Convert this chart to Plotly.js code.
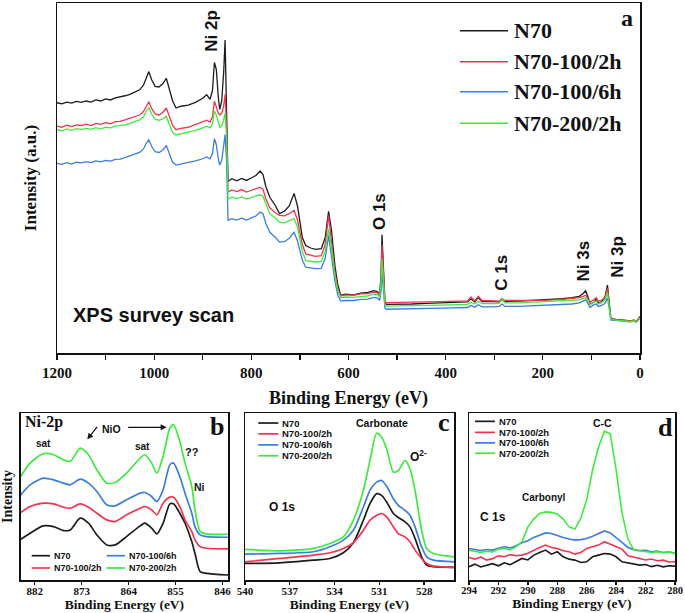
<!DOCTYPE html>
<html>
<head>
<meta charset="utf-8">
<script src="https://cdn.plot.ly/plotly-3.0.1.min.js"></script>
<style>html,body{margin:0;padding:0;background:#fff;}#chart{width:685px;height:613px;}</style>
</head>
<body>
<div id="chart"></div>
<script>
// ---------- shared series info ----------
const seriesNames  = ['N70', 'N70-100/2h', 'N70-100/6h', 'N70-200/2h'];
const seriesColors = ['#1c1c1c', '#f4344f', '#3b7de4', '#3fea3f'];

// ---------- (a) XPS survey scan ----------
const surveyEV = [1200,1190,1180,1170,1160,1150,1140,1130,1120,1110,
  1100,1090,1080,1070,1060,1050,1040,1030,1022,1016,
  1011,1005,998,990,982,975,968,962,955,945,
  930,915,900,892,885,880,876,872,868,865,
  861,857,854,851,848,840,830,820,810,800,
  790,782,776,770,762,750,742,732,722,712,
  705,695,688,678,668,656,648,641,635,628,
  622,616,605,590,575,560,548,540,536,533,
  531,528,525,522,500,470,440,410,380,355,
  348,340,333,325,300,290,284,278,250,220,
  190,160,140,125,117,112,107,103,95,90,
  86,80,72,67,63,60,50,40,30,20,
  12,8,3,0];
const surveyN70 = [71.5,71.2,71.7,71.4,71.9,71.6,72.0,71.7,72.3,72.0,
  72.6,72.3,72.9,73.1,73.5,73.9,74.6,75.2,76.5,78.8,
  80.4,78.0,76.2,76.0,77.0,78.5,75.0,72.0,70.0,70.5,
  70.8,71.6,72.8,73.8,72.5,75.0,83.0,81.0,73.0,69.6,
  72.0,80.0,89.4,70.0,49.0,49.8,49.2,49.9,49.3,50.0,
  50.8,52.0,51.0,47.5,44.5,42.0,39.8,40.5,42.0,45.6,
  42.0,33.0,30.7,30.0,29.6,29.8,33.0,40.5,35.0,25.0,
  19.5,16.5,16.8,16.6,17.1,17.3,17.8,17.5,16.5,22.0,
  33.8,24.0,14.5,13.9,13.9,14.0,14.2,14.3,14.4,14.6,
  15.5,14.6,15.8,14.7,14.7,14.6,15.3,14.7,14.8,15.0,
  15.2,15.5,15.8,16.2,17.0,17.8,16.0,14.0,14.5,15.5,
  14.2,14.5,16.0,19.4,14.0,9.8,9.6,9.5,9.4,9.2,
  9.4,9.0,9.8,10.5];
const surveyN70_100_2h = [64.8,64.5,65.1,64.7,65.2,65.0,65.4,65.0,65.6,65.3,
  65.8,65.5,66.1,66.2,66.6,67.0,67.4,68.0,69.0,70.8,
  71.8,69.8,68.3,68.0,68.8,70.0,67.3,65.0,63.8,64.2,
  64.5,65.2,66.0,66.5,66.0,67.5,72.0,70.5,68.5,68.0,
  68.5,70.5,73.9,65.0,46.0,46.6,46.1,46.7,46.0,46.5,
  46.9,47.3,46.8,44.0,41.5,40.0,39.3,39.2,39.8,40.8,
  38.0,31.0,28.3,27.9,27.6,27.8,31.0,39.3,32.0,23.0,
  18.5,16.3,16.6,16.5,16.9,17.0,17.4,17.2,16.5,21.0,
  30.9,22.0,14.8,14.4,14.4,14.5,14.6,14.7,14.8,14.9,
  16.0,14.9,16.2,15.0,14.9,14.8,15.6,15.0,15.0,15.0,
  15.1,15.3,15.5,15.8,16.2,16.5,15.5,14.5,15.3,15.8,
  14.8,15.0,15.8,18.5,13.5,9.8,9.6,9.5,9.4,9.2,
  9.4,9.0,9.8,10.3];
const surveyN70_100_6h = [54.2,53.9,54.4,54.0,54.5,54.3,54.7,54.4,54.9,54.6,
  55.0,54.8,55.3,55.4,55.8,56.2,56.8,57.3,58.3,60.0,
  60.9,59.0,57.5,57.3,58.0,59.3,56.5,54.5,53.7,54.0,
  54.3,54.9,55.5,56.0,55.5,57.0,61.2,59.5,55.5,53.7,
  55.0,58.5,62.4,55.0,37.9,38.4,38.0,38.5,38.0,38.6,
  39.2,40.3,39.8,37.0,34.5,33.0,31.7,31.8,32.8,34.5,
  32.0,26.5,24.5,24.3,24.1,24.2,27.0,33.6,28.0,20.5,
  16.5,14.9,15.0,15.0,15.3,15.4,15.9,15.7,15.0,17.5,
  23.0,17.0,12.8,12.5,12.6,12.6,12.7,12.8,12.9,13.0,
  13.6,13.1,13.8,13.2,13.2,13.3,14.0,13.3,13.3,13.5,
  13.6,13.8,14.0,14.3,14.8,15.2,14.2,13.0,13.8,14.0,
  13.3,13.5,14.2,15.8,12.5,9.4,9.3,9.2,9.1,8.9,
  9.1,8.8,9.5,9.9];
const surveyN70_200_2h = [63.8,63.5,64.0,63.6,64.1,63.8,64.2,63.9,64.4,64.0,
  64.5,64.3,64.8,64.9,65.2,65.6,66.0,66.6,67.5,69.2,
  70.1,68.2,66.8,66.5,66.9,67.6,65.0,63.0,62.3,62.6,
  63.0,63.6,64.3,64.8,64.3,65.5,69.1,68.0,66.0,64.5,
  65.0,66.5,68.5,62.0,44.0,44.5,44.1,44.6,44.0,44.4,
  44.8,45.2,44.8,42.5,39.8,38.5,37.4,37.2,37.8,38.4,
  36.0,29.0,26.4,26.2,26.0,26.2,29.0,35.5,30.0,22.0,
  17.8,15.8,16.0,15.9,16.2,16.3,16.8,16.6,16.0,19.5,
  26.9,19.0,13.8,13.4,13.4,13.5,13.6,13.7,13.8,13.9,
  14.6,14.0,14.8,14.1,14.1,14.2,15.5,14.3,14.3,14.5,
  14.6,14.8,15.0,15.2,15.6,15.8,15.0,13.8,14.6,14.8,
  14.0,14.3,15.2,17.3,13.0,9.6,9.4,9.3,9.2,9.0,
  9.2,8.9,9.6,10.0];
const surveyTicks = [1200,1100,1000,900,800,700,600,500,400,300,200,100,0];
const surveyTickText = ['1200','','1000','','800','','600','','400','','200','','0'];

// ---------- (b) Ni 2p ----------
const niEV = [884.7,882.9,880.4,878.4,876.5,875.2,873.3,871.7,870.1,868.2,866.6,864.4,861.8,860.9,859.6,858.6,857.4,856.1,855.4,854.2,853.2,851.9,851.3,850.3,849.1,844.9];
const niN70        = [24.4,28,32.4,32,29.6,30,37,34,27,21,21,26,32.4,34,31,27.6,34,45.6,45.6,40,34,23,16,5,4,3];
const niN70_100_2h = [40.4,44,46,45.6,43.6,43,45.6,43.6,40,36,35,39,43,44,42,39,46,49.6,49.6,44,36,29,24,20,19,18.6];
const niN70_100_6h = [51,57,61,60,58,57,60.4,58,53,45,44.4,48,52,52.4,50,47,54,69,70,62,52,40,32,27,26,25.6];
const niN70_200_2h = [62,70,75.6,75,72,71,79,75,66,58,58.4,64,73,75,70,64,74,91,93,83,70,56,42,29,27.6,27.4];
const niTicks = [882,873,864,855,846];

// ---------- (c) O 1s ----------
const oEV = [540,537.66,535.42,534.31,533.41,532.74,532.07,531.63,531.18,530.85,530.51,530.06,529.73,529.28,528.95,528.61,528.17,527.83,527.38,526.0];
const oN70        = [9.9,10.3,11.9,12.9,16.3,22.3,35.8,45.7,51.7,50.7,46.7,39.8,37.4,34.8,31.8,24.9,13.9,8.9,8.0,7.6];
const oN70_100_2h = [10.9,12.9,14.9,16.3,18.9,22.3,29.8,35.8,38.8,39.8,37.8,31.8,27.8,25.8,22.9,17.9,12.9,9.9,8.3,7.6];
const oN70_100_6h = [15.5,15.9,16.9,19.9,23.9,29.8,43.7,53.7,58.6,59.6,56.1,48.7,44.7,41.7,38.8,31.8,19.9,13.9,11.9,10.9];
const oN70_200_2h = [18.3,17.5,18.9,21.9,25.8,35.8,53.7,71.6,87.9,85.5,78.5,64.6,65.6,71.6,66.6,53.7,29.8,18.9,15.9,13.9];
const oTicks = [540,537,534,531,528];

// ---------- (d) C 1s ----------
const cEV = [294,293.6,293.2,292.8,292.4,292.0,291.6,291.2,290.8,290.4,290.0,289.6,289.2,288.8,288.4,288.0,287.6,287.2,286.8,286.4,286.0,285.6,285.2,284.8,284.4,284.0,283.6,283.2,282.8,282.4,282.0,281.6,281.2,280.8,280.4,280.0];
const cN70        = [8.0,9.5,7.8,8.9,9.8,8.5,10.3,9.2,11.0,12.9,12.0,14.9,16.5,17.9,15.5,16.9,13.9,12.5,11.9,10.5,10.9,13.9,14.9,15.9,15.5,13.9,10.9,10.2,9.9,8.9,9.3,8.0,8.8,7.9,8.5,8.3];
const cN70_100_2h = [13.5,12.5,13.8,11.9,12.8,14.5,13.9,15.2,14.5,14.9,16.0,17.9,19.5,20.9,19.5,18.9,17.5,16.9,15.5,16.5,18.9,19.9,20.9,22.9,21.5,20.3,18.5,14.5,13.5,12.9,12.0,12.6,11.5,11.9,10.8,10.9];
const cN70_100_6h = [18.9,18.2,17.6,18.3,17.9,19.0,19.9,19.2,20.5,22.3,23.5,25.5,27.0,28.2,27.8,26.5,25.5,24.5,23.9,24.2,24.9,26.2,27.8,29.4,28.2,25.5,22.5,19.5,18.2,17.6,17.8,16.9,17.3,16.5,16.8,16.2];
const cN70_200_2h = [17.9,17.0,16.5,17.2,16.8,18.5,18.9,18.0,20.0,22.9,31.8,36.5,39.8,40.8,40.5,39.5,36.5,31.8,30.5,37.0,48.0,66.0,79.5,89.1,87.5,66.0,40.0,24.5,18.0,17.5,17.2,16.5,17.0,16.3,16.8,15.9];
const cTicks = [294,292,290,288,286,284,282,280];

// ---------- build traces ----------
const panels = [
  {xa:'x',  ya:'y',  x:surveyEV, ys:[surveyN70, surveyN70_100_2h, surveyN70_100_6h, surveyN70_200_2h], w:1.3, shape:'linear'},
  {xa:'x2', ya:'y2', x:niEV,     ys:[niN70, niN70_100_2h, niN70_100_6h, niN70_200_2h], w:1.7, shape:'spline'},
  {xa:'x3', ya:'y3', x:oEV,      ys:[oN70, oN70_100_2h, oN70_100_6h, oN70_200_2h], w:1.7, shape:'spline'},
  {xa:'x4', ya:'y4', x:cEV,      ys:[cN70, cN70_100_2h, cN70_100_6h, cN70_200_2h], w:1.6, shape:'linear'}
];
const traces = [];
panels.forEach(p => {
  p.ys.forEach((y, i) => {
    traces.push({type:'scatter', mode:'lines', x:p.x, y:y, xaxis:p.xa, yaxis:p.ya,
      name:seriesNames[i], showlegend:false,
      line:{color:seriesColors[i], width:p.w, shape:p.shape, smoothing:0.7}});
  });
});

// ---------- fonts ----------
const serif = 'Liberation Serif, Times New Roman, serif';
const sans  = 'Liberation Sans, Arial, sans-serif';
const sf = (s) => ({family:serif, size:s, color:'#111', weight:'bold'});
const af = (s) => ({family:sans, size:s, color:'#111', weight:'bold'});

const W = 685, H = 613;
const baseAxis = {showline:true, linecolor:'#111', linewidth:1.5, mirror:true, showgrid:false, zeroline:false};
const xAx = (dom, range, ticks, text, tsize, titleSize, standoff, tlen, lstand) => Object.assign({}, baseAxis, {
  domain:dom, range:range, tickmode:'array', tickvals:ticks, ticktext:text || ticks.map(String),
  ticks:'outside', ticklen:tlen, tickwidth:1.3, tickcolor:'#111', tickfont:sf(tsize),
  ticklabelstandoff:lstand || 0,
  title:{text:'Binding Energy (eV)', font:sf(titleSize), standoff:standoff}
});
const yAx = (dom, title, tsize, standoff) => Object.assign({}, baseAxis, {
  domain:dom, range:[0,100], showticklabels:false, ticks:'',
  title:{text:title || '', font:sf(tsize || 14), standoff:standoff || 0}
});

const domA = {x:[57/W, 640/W], y:[1-353/H, 1-3/H]};
const domB = {x:[20.7/W, 228.3/W], y:[1-580/H, 1-413/H]};
const domC = {x:[245/W, 454/W], y:[1-580/H, 1-413/H]};
const domD = {x:[469/W, 675/W], y:[1-580/H, 1-413/H]};

const annotations = [];
const shapes = [];
function txt(xref, yref, x, y, text, font, opts) {
  annotations.push(Object.assign({xref:xref, yref:yref, x:x, y:y, text:text, font:font,
    showarrow:false, xanchor:'center', yanchor:'middle'}, opts || {}));
}
function legendEntry(xd, yd, x0, x1, xt, y, i, font, lw) {
  shapes.push({type:'line', xref:xd, yref:yd, x0:x0, x1:x1, y0:y, y1:y, line:{color:seriesColors[i], width:lw}});
  txt(xd, yd, xt, y, seriesNames[i], font, {xanchor:'left'});
}

// panel a labels
txt('x','y', 880.9, 92.1, 'Ni 2p', af(17), {textangle:-90});
txt('x','y', 535, 40.3, 'O 1s', af(17), {textangle:-90});
txt('x','y', 285.8, 23, 'C 1s', af(17), {textangle:-90});
txt('x','y', 116.8, 26.2, 'Ni 3s', af(17), {textangle:-90});
txt('x','y', 46.7, 27.6, 'Ni 3p', af(17), {textangle:-90});
txt('x','y', 1001, 11, 'XPS survey scan', af(20));
txt('x','y', 27.4, 95.6, 'a', sf(24));
[0.9209, 0.8323, 0.7466, 0.6563].forEach((y, i) => legendEntry('x domain','y domain', 0.691, 0.7736, 0.7804, y, i, sf(22), 1.5));

// panel b labels
txt('x2 domain','y2 domain', 0.011, 0.946, 'Ni-2p', sf(16), {xanchor:'left'});
txt('x2 domain','y2 domain', 0.944, 0.919, 'b', sf(26));
txt('x2 domain','y2 domain', 0.438, 0.904, 'NiO', af(10.5));
txt('x2 domain','y2 domain', 0.109, 0.819, 'sat', af(10));
txt('x2 domain','y2 domain', 0.587, 0.798, 'sat', af(10));
txt('x2 domain','y2 domain', 0.825, 0.768, '??', af(11));
txt('x2 domain','y2 domain', 0.861, 0.555, 'Ni', af(10.5));
annotations.push({xref:'x2 domain', yref:'y2 domain', x:0.3208, y:0.8425, ax:11, ay:-14, axref:'pixel', ayref:'pixel',
  text:'', showarrow:true, arrowhead:2, arrowsize:1, arrowwidth:1.2, arrowcolor:'#111', standoff:0});
annotations.push({xref:'x2 domain', yref:'y2 domain', x:0.7033, y:0.9144, ax:-40, ay:0, axref:'pixel', ayref:'pixel',
  text:'', showarrow:true, arrowhead:2, arrowsize:1, arrowwidth:1.2, arrowcolor:'#111', standoff:0});
legendEntry('x2 domain','y2 domain', 0.053, 0.141, 0.149, 0.1455, 0, af(9), 1.7);
legendEntry('x2 domain','y2 domain', 0.414, 0.502, 0.514, 0.1455, 2, af(9), 1.7);
legendEntry('x2 domain','y2 domain', 0.053, 0.141, 0.149, 0.0719, 1, af(9), 1.7);
legendEntry('x2 domain','y2 domain', 0.414, 0.502, 0.514, 0.0719, 3, af(9), 1.7);

// panel c labels
[0.940, 0.875, 0.809, 0.744].forEach((y, i) => legendEntry('x3 domain','y3 domain', 0.0636, 0.1593, 0.1675, y, i, af(9.5), 1.7));
txt('x3 domain','y3 domain', 0.654, 0.940, 'Carbonate', af(10.5));
txt('x3 domain','y3 domain', 0.829, 0.745, 'O<sup>2-</sup>', af(12));
txt('x3 domain','y3 domain', 0.1756, 0.437, 'O 1s', af(12));
txt('x3 domain','y3 domain', 0.952, 0.944, 'c', sf(26));

// panel d labels
[0.950, 0.884, 0.821, 0.759].forEach((y, i) => legendEntry('x4 domain','y4 domain', 0.029, 0.126, 0.1345, y, i, af(9.5), 1.7));
txt('x4 domain','y4 domain', 0.650, 0.940, 'C-C', af(10.5));
txt('x4 domain','y4 domain', 0.3665, 0.497, 'Carbonyl', af(10));
txt('x4 domain','y4 domain', 0.118, 0.377, 'C 1s', af(12));
txt('x4 domain','y4 domain', 0.953, 0.912, 'd', sf(26));

const layout = {
  width:W, height:H, margin:{l:0, r:0, t:0, b:0}, paper_bgcolor:'#fff', plot_bgcolor:'#fff',
  showlegend:false,
  xaxis:  xAx(domA.x, [1200, 0], surveyTicks, surveyTickText, 15, 18, 12, 5, 0),
  yaxis:  yAx(domA.y, 'Intensity (a.u.)', 17, 14),
  xaxis2: Object.assign(xAx(domB.x, [884.7, 844.9], niTicks, null, 11, 13.5, 2, 3, -3), {anchor:'y2'}),
  yaxis2: Object.assign(yAx(domB.y, 'Intensity', 14, 5), {anchor:'x2'}),
  xaxis3: Object.assign(xAx(domC.x, [540, 526], oTicks, null, 11, 13.5, 2, 3, -3), {anchor:'y3'}),
  yaxis3: Object.assign(yAx(domC.y, ''), {anchor:'x3'}),
  xaxis4: Object.assign(xAx(domD.x, [294, 280], cTicks, null, 10.5, 13.5, 2, 3, -3), {anchor:'y4'}),
  yaxis4: Object.assign(yAx(domD.y, ''), {anchor:'x4'}),
  annotations:annotations, shapes:shapes
};

Plotly.newPlot('chart', traces, layout, {displayModeBar:false, staticPlot:true});
</script>
</body>
</html>
